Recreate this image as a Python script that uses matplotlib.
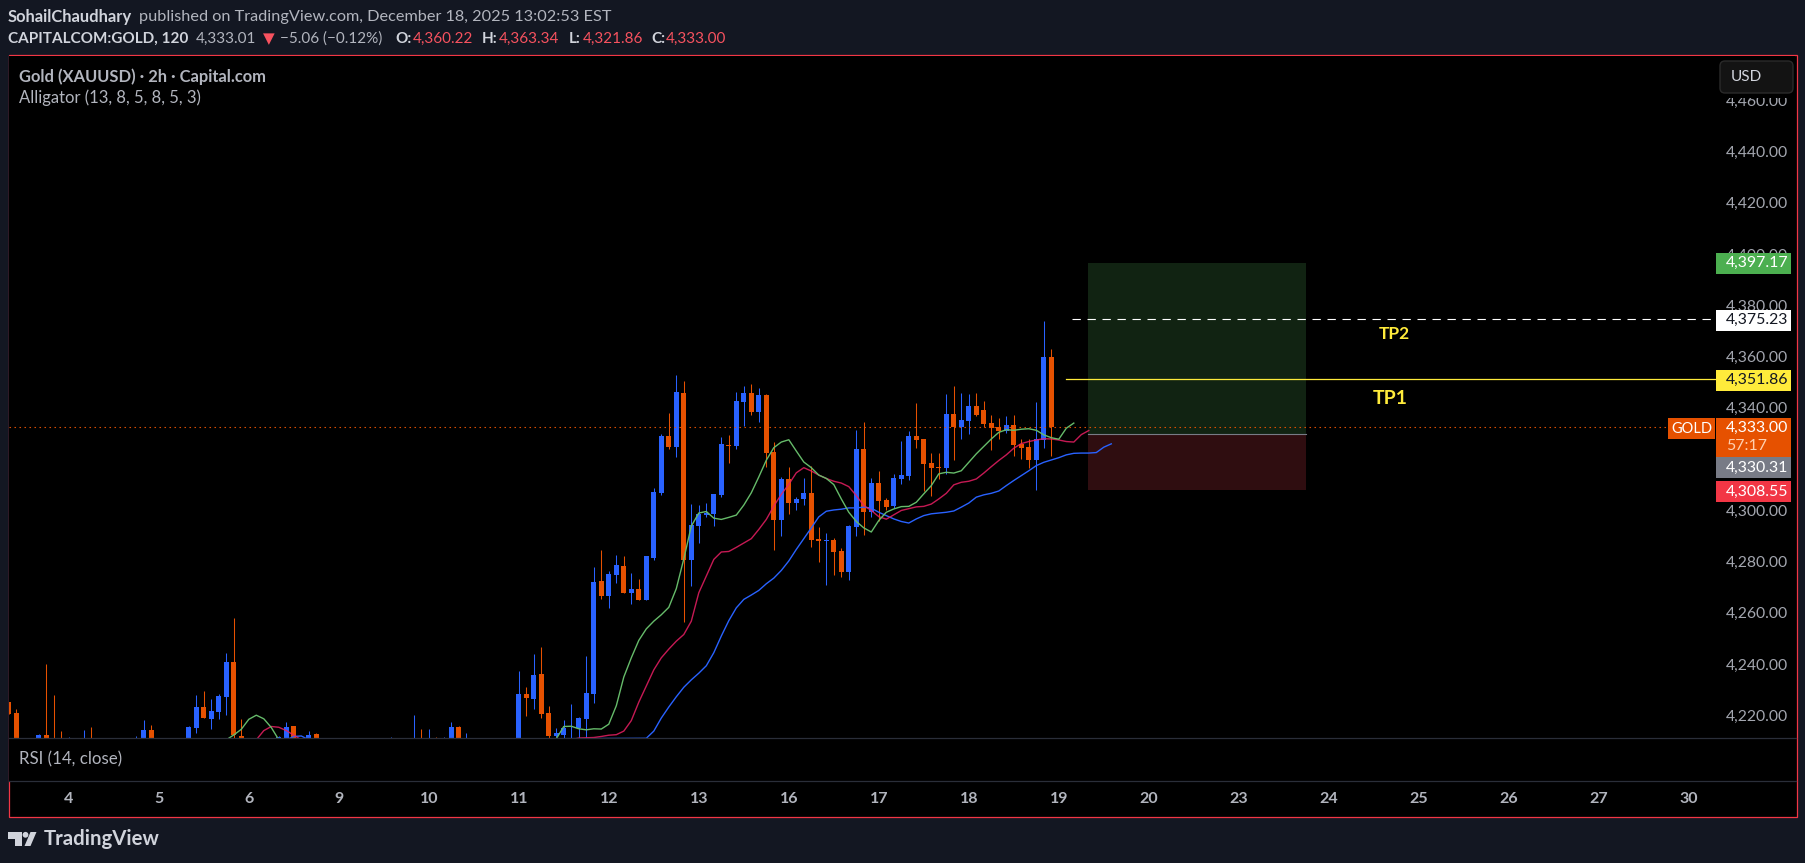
import matplotlib
matplotlib.use("Agg")
import matplotlib.pyplot as plt
from matplotlib.patches import Rectangle, FancyBboxPatch, Polygon, Circle

FONT = "Lato"
BG = "#131722"
BLUE = "#2962ff"
ORANGE = "#e65100"
GREY_TXT = "#b2b5be"

# candles: bar number, open, high, low, close (bars under the pane left out)
bar_no = [0, 1, 4, 5, 6, 7, 8, 10, 11, 17, 18, 19, 24, 25, 26, 27, 28, 29, 30, 31,
          36, 37, 38, 40, 41, 51, 54, 55, 56, 57, 58, 59, 60, 61,
          68, 69, 70, 71, 72, 73, 74, 75, 76, 77, 78, 79, 80, 81, 82, 83, 84, 85,
          86, 87, 88, 89, 90, 91, 92, 93, 94, 95, 96, 97, 98, 99, 100, 101, 102,
          103, 104, 105, 106, 107, 108, 109, 110, 111, 112, 113, 114, 115, 116,
          117, 118, 119, 120, 121, 122, 123, 124, 125, 126, 127, 128, 129, 130,
          131, 132, 133, 134, 135, 136, 137, 138, 139]
opens = [4225.8, 4221.5, 4209, 4212.9, 4209, 4209, 4207, 4207, 4209, 4207, 4205, 4214.9, 4208, 4215.6, 4223.8, 4219.2, 4221.9, 4227.7, 4241.4, 4212.5,
         4208, 4207, 4216.4, 4209, 4213.3, 4208, 4207, 4209, 4207, 4209, 4207, 4206, 4216.1, 4207,
         4205, 4229, 4227, 4236.7, 4221.5, 4212.6, 4213, 4208, 4215.7, 4219.2, 4228.9, 4273, 4267.2, 4275.3, 4278.9, 4268.3, 4269.9, 4265.6,
         4281.8, 4307.5, 4329.4, 4325.1, 4346.5, 4281, 4294.3, 4298.6, 4299.3, 4306.7, 4325.9, 4325.5, 4343, 4346.5, 4339.1, 4345.4, 4323.5,
         4296.6, 4312.6, 4303.6, 4304.8, 4307.5, 4289.2, 4288.4, 4289, 4284.7, 4276.5, 4294.1, 4324.5, 4299.9, 4311.2,
         4304.6, 4302.3, 4312.8, 4314, 4329.6, 4328.4, 4319, 4317.5, 4317.1, 4338.2, 4333.1, 4335.4, 4341.3, 4339.7,
         4334.6, 4333.1, 4331.5, 4333.9, 4326.5, 4325.3, 4320.2, 4328, 4360.22]
highs = [4225.8, 4223.0, 4213.3, 4240.6, 4228.5, 4214.5, 4212.1, 4214.9, 4216.0, 4212.5, 4218.8, 4216.8, 4216.4, 4228.5, 4230.1, 4226.9, 4228.9, 4244.9, 4258.5, 4219.2,
         4212.5, 4218, 4216.4, 4214.4, 4213.6, 4212.2, 4220.8, 4215.3, 4215.3, 4212.2, 4212.2, 4218.0, 4216.5, 4213.7,
         4237.9, 4231.7, 4244.5, 4247.3, 4224.3, 4215.7, 4218.8, 4225, 4219.8, 4243.8, 4278.5, 4285.1, 4276.9, 4283.2, 4282.8, 4276.1, 4273.8, 4282.8,
         4309.1, 4330.5, 4338.7, 4353.2, 4351.2, 4303.2, 4302.5, 4303.6, 4307.1, 4329, 4329.8, 4346.9, 4348.9, 4350, 4348.1, 4346.1, 4327.4,
         4313.4, 4317.3, 4305.6, 4313, 4317.7, 4293.9, 4291.9, 4289.8, 4285.9, 4294.9, 4331.9, 4335, 4313.2, 4315.9,
         4305.4, 4314.8, 4327.6, 4331.5, 4342.4, 4328.4, 4322.9, 4322.9, 4345.9, 4349.1, 4346.3, 4345.9, 4346.3, 4343.2,
         4337.8, 4336.6, 4337.4, 4337.8, 4328.4, 4328.4, 4342.8, 4374.4, 4363.34]
lows = [4221.1, 4205, 4207, 4207, 4204, 4204, 4205, 4205, 4204, 4205, 4203, 4205, 4206, 4213.7, 4219.5, 4215.2, 4219.2, 4220.7, 4208, 4206,
        4206, 4205, 4206, 4207, 4208, 4206, 4205, 4205, 4205, 4205, 4205, 4204, 4204, 4205,
        4203, 4220.4, 4223.1, 4219.6, 4211.8, 4210, 4211, 4205, 4210, 4209, 4225.4, 4266, 4262.5, 4272.2, 4268.3, 4264, 4265.6, 4265.6,
        4281, 4306.4, 4324.3, 4321.2, 4256.8, 4270.9, 4288, 4297.8, 4294.3, 4305.6, 4319.2, 4324.3, 4333.3, 4337.6, 4335.2, 4317.3, 4284.9,
        4290.4, 4299.3, 4300.5, 4302.5, 4286.1, 4280.2, 4271.3, 4275.4, 4274.6, 4273.4, 4290.6, 4291, 4298, 4296.4,
        4300.7, 4301.5, 4310.9, 4312.4, 4324.9, 4308.1, 4306.2, 4312.8, 4314.8, 4320.2, 4328.4, 4330.4, 4337.4, 4333.1,
        4324.1, 4328.4, 4330.7, 4321.8, 4320.6, 4317.1, 4308.5, 4324.9, 4321.86]
closes = [4221.1, 4208, 4212.9, 4209, 4207, 4207, 4209, 4209, 4207, 4209, 4214.9, 4207, 4216.0, 4223.8, 4219.5, 4222.3, 4228.1, 4241.4, 4212.9, 4209,
          4212.0, 4216, 4208, 4212.9, 4209, 4210, 4209, 4207, 4209, 4207, 4209, 4216.1, 4206, 4209,
          4229, 4227.4, 4236.3, 4221.1, 4212.6, 4213.7, 4215.7, 4211, 4219.6, 4229.3, 4272.6, 4267.2, 4275.7, 4279.2, 4268.3, 4269.9, 4265.6, 4282.6,
          4307.9, 4329.4, 4325.1, 4346.9, 4281, 4294.7, 4299, 4299.7, 4307.1, 4326.3, 4325.5, 4343.4, 4346.5, 4339.1, 4345.4, 4323.1, 4296.6,
          4312.6, 4303.6, 4304.8, 4307.5, 4288.8, 4288.4, 4288.8, 4284.3, 4276.5, 4294.5, 4324.5, 4299.9, 4311.2, 4304.2,
          4301.9, 4313.2, 4314.4, 4329.6, 4328, 4318.7, 4317.1, 4317.1, 4338.2, 4333.1, 4335.8, 4341.3, 4337.8, 4334.3,
          4332.7, 4331.5, 4333.9, 4326.1, 4324.9, 4320.2, 4328.4, 4360.4, 4333.0]

# alligator lines, the gaps run under the pane so they get clipped
lips_bars = list(range(29, 37)) + list(range(73, 143))
lips = [4211, 4212.9, 4215.1, 4219, 4220.6, 4219.2, 4215.8, 4211,
        4211.4, 4216.2, 4216.3, 4215.3, 4214.9, 4215.3, 4215.2, 4217.1, 4224.3, 4235.5,
        4243, 4249.8, 4254.3, 4257.3, 4259.8, 4262.7, 4270, 4281.6, 4294.4, 4299.5,
        4300.1, 4297.5, 4297, 4297.8, 4298.7, 4302.6, 4307.4, 4313.6, 4320.1, 4325,
        4327.2, 4328.1, 4323.7, 4319.4, 4317.2, 4314.3, 4313, 4310.6, 4305, 4299.8,
        4296.2, 4293.7, 4292.1, 4296.6, 4299.8, 4301.1, 4302, 4302.1, 4303.7, 4307,
        4310.2, 4314.8, 4315.4, 4315.1, 4316, 4319.3, 4322.6, 4325.5, 4328.4, 4331,
        4332, 4331.8, 4332.2, 4332.4, 4331.8, 4330, 4328.9, 4328.3, 4332.6, 4334.6]
teeth_bars = list(range(33, 40)) + list(range(75, 145))
teeth = [4211, 4214.6, 4216.2, 4215.9, 4214.6, 4212.8, 4211,
         4211, 4211.7, 4211.8, 4211.9, 4212.3, 4212.8, 4213, 4214.4, 4218.5, 4225.7,
         4232, 4238.3, 4243, 4246.4, 4249.5, 4252.1, 4257.3, 4268.4, 4274.9, 4281.4,
         4284.3, 4284.5, 4286.1, 4287.8, 4289.5, 4293.1, 4297, 4302.2, 4306.8, 4310.7,
         4315.2, 4317.2, 4315.9, 4314.3, 4313, 4311.9, 4311.2, 4309.8, 4306.3, 4302.4,
         4300.5, 4298.1, 4297.1, 4298.8, 4300.5, 4301.2, 4301.9, 4302.1, 4303, 4305,
         4307.2, 4310.5, 4311.5, 4311.9, 4312.8, 4315.1, 4317.6, 4320, 4322.2, 4324.8,
         4326.6, 4327.4, 4328, 4328.5, 4328.4, 4328, 4327.4, 4327.2, 4330.1, 4331.7]
jaw_bars = list(range(37, 41)) + list(range(85, 148))
jaw = [4211, 4212.3, 4212.5, 4211,
       4211.6, 4214.4, 4219.5, 4223.8, 4227.8, 4231.5, 4234.4, 4237, 4239.9, 4245,
       4251.5, 4257.5, 4262.5, 4265.8, 4267.5, 4269.3, 4271.9, 4274.1, 4277.1, 4280.8,
       4285.3, 4289.5, 4293.7, 4298, 4300.2, 4300.7, 4301, 4301.5, 4301.5, 4301.8,
       4301.4, 4299.8, 4298.5, 4297.2, 4296.2, 4295.6, 4297.2, 4298.5, 4299.2, 4299.5,
       4299.8, 4300.3, 4301.8, 4303.4, 4305.7, 4306.6, 4307.2, 4308.1, 4310.2, 4312.2,
       4314.1, 4316, 4318, 4319.3, 4320.2, 4321.1, 4322.2, 4322.8, 4322.9, 4322.9,
       4323.1, 4325.2, 4326.5]

price_ticks = [4220, 4240, 4260, 4280, 4300, 4320, 4340, 4360, 4380, 4400, 4420, 4440, 4460]
day_ticks = [8, 20, 32, 44, 56, 68, 80, 92, 104, 116, 128, 140, 152, 164, 176, 188, 200, 212, 224]
day_labels = ["4", "5", "6", "9", "10", "11", "12", "13", "16", "17", "18", "19", "20", "23", "24", "25", "26", "27", "30"]

last_price = 4333.00
tp1 = 4351.86
tp2 = 4375.23
entry = 4330.31
target = 4397.17
stop = 4308.55
box_start, box_end = 143.9, 173

W, H = 1806, 863
plt.rcParams["font.family"] = [FONT, "DejaVu Sans"]
fig = plt.figure(figsize=(W / 100, H / 100), dpi=100, facecolor=BG)


def fx(x):
    return x / W


def fy(y):
    return 1 - y / H


def label(x, y, s, color=GREY_TXT, size=10, weight="normal", ha="left", **kw):
    fig.text(fx(x), fy(y), s, color=color, fontsize=size, fontweight=weight, ha=ha, va="center", **kw)


# black frame with the red outline
fig.add_artist(Rectangle((fx(8.5), fy(816.5)), fx(1788.5), 761 / H, transform=fig.transFigure,
                         facecolor="black", edgecolor="#f23645", lw=0.9, zorder=-1))

# price pane, x is bar number (7.5 px per bar)
ax = fig.add_axes([fx(9.5), fy(738.3), fx(1716 - 9.5), (738.3 - 56) / H], facecolor="black")
ax.set_xlim((9.5 - 8.8) / 7.5, (1716 - 8.8) / 7.5)
ax.set_ylim(4440 - (738.3 - 153) / 2.5625, 4440 + (153 - 56) / 2.5625)
for s in ax.spines.values():
    s.set_visible(False)
ax.set_xticks([])
ax.yaxis.tick_right()
ax.set_yticks(price_ticks)
ax.set_yticklabels([f"{v:,.2f}" for v in price_ticks], color="#a3a6af", fontsize=11.3, va="center")
ax.tick_params(axis="y", length=0, pad=7.2)

# long/short box
ax.add_patch(Rectangle((box_start, entry), box_end - box_start, target - entry, facecolor="#112312", edgecolor="none", zorder=1))
ax.add_patch(Rectangle((box_start, stop), box_end - box_start, entry - stop, facecolor="#2f0d10", edgecolor="none", zorder=1))
ax.plot([box_start, box_end], [entry, entry], color="#787b86", lw=0.8, zorder=1.2)

# candles
for i, o, h, l, c in zip(bar_no, opens, highs, lows, closes):
    col = BLUE if c >= o else ORANGE
    ax.vlines(i, l, h, color=col, lw=0.75, zorder=2)
    ax.bar(i, abs(c - o), bottom=min(o, c), width=0.667, color=col, linewidth=0, zorder=2.1)

ax.plot(jaw_bars, jaw, color=BLUE, lw=1.0, zorder=2.2)
ax.plot(teeth_bars, teeth, color="#e91e63", lw=1.0, alpha=0.85, zorder=2.2)
ax.plot(lips_bars, lips, color="#66bb6a", lw=1.0, zorder=2.2)

ax.plot([ax.get_xlim()[0], 221.1], [last_price, last_price], color=ORANGE, lw=0.8, ls=(0, (1.3, 3.2)), zorder=2.3)
ax.plot([141.8, ax.get_xlim()[1]], [tp2, tp2], color="white", lw=0.8, ls=(0, (7.5, 6)), zorder=2.3)
ax.plot([140.9, ax.get_xlim()[1]], [tp1, tp1], color="#ffeb3b", lw=0.9, zorder=2.3)

label(1394, 334, "TP2", color="#ffeb3b", size=12.5, weight="bold", ha="center", zorder=8)
label(1390, 398, "TP1", color="#ffeb3b", size=14, weight="bold", ha="center", zorder=8)

# rsi pane, empty in the picture, carries the date axis
ax2 = fig.add_axes([fx(9.5), fy(781.3), fx(1787), (781.3 - 738.3) / H], facecolor="black")
ax2.set_xlim((9.5 - 8.8) / 7.5, (9.5 + 1787 - 8.8) / 7.5)
ax2.set_yticks([])
ax2.set_xticks(day_ticks)
ax2.set_xticklabels(day_labels, color=GREY_TXT, fontsize=11.5, fontweight="bold")
ax2.tick_params(axis="x", length=0, pad=8)
for side in ["left", "right"]:
    ax2.spines[side].set_visible(False)
ax2.spines["top"].set_color("#2a2e39")
ax2.spines["bottom"].set_color("#2a2e39")
ax2.spines["top"].set_linewidth(0.9)
ax2.spines["bottom"].set_linewidth(0.9)
ax2.text(0.00535, 0.5, "RSI (14, close)", transform=ax2.transAxes, color=GREY_TXT, fontsize=12.2, va="center")

# coloured labels on the price scale
fig_over = fig.add_axes([0, 0, 1, 1], facecolor="none")
fig_over.set_xlim(0, W)
fig_over.set_ylim(H, 0)
fig_over.axis("off")


def price_box(y0, y1, col, s, txt_col):
    fig_over.add_patch(Rectangle((1716, y0), 75, y1 - y0, facecolor=col, edgecolor="none"))
    fig_over.text(1726, (y0 + y1) / 2, s, color=txt_col, fontsize=11.4, va="center")


price_box(253, 273.7, "#4caf50", f"{target:,.2f}", "white")
price_box(310, 330.7, "white", f"{tp2:,.2f}", "#131722")
price_box(370, 390.7, "#ffeb3b", f"{tp1:,.2f}", "#131722")
price_box(418, 457, ORANGE, "", "white")
fig_over.text(1726, 428, f"{last_price:,.2f}", color="white", fontsize=11.4, va="center")
fig_over.text(1726, 445.5, "57:17", color="#ffd0b0", fontsize=11.4, va="center")
price_box(457.3, 478, "#787b86", f"{entry:,.2f}", "white")
price_box(481, 502, "#f23645", f"{stop:,.2f}", "white")
fig_over.add_patch(Rectangle((1668, 418), 47, 20.7, facecolor=ORANGE, edgecolor="none"))
fig_over.text(1691.5, 428.5, "GOLD", color="white", fontsize=10.5, va="center", ha="center")

# USD button
fig_over.add_patch(Rectangle((1716, 56.5), 79, 41.5, facecolor="black", edgecolor="none"))
fig_over.add_patch(FancyBboxPatch((1723, 64), 67, 26, boxstyle="round,pad=3,rounding_size=5",
                                  facecolor="#131313", edgecolor="#2a2a2a", lw=1))
fig_over.text(1731, 77, "USD", color="#d1d4dc", fontsize=11, va="center")

# header
label(8, 17, "SohailChaudhary", color="#d1d4dc", size=11.9, weight="bold")
label(139, 17, "published on TradingView.com, December 18, 2025 13:02:53 EST", color="#b2b5be", size=11.7)
label(8, 39, "CAPITALCOM:GOLD, 120", color="#d1d4dc", size=11, weight="bold")
label(196, 39, "4,333.01", color="#b2b5be", size=11)
label(263, 39, "\u25bc", color="#f7525f", size=11, family="DejaVu Sans")
label(280.5, 39, "\u22125.06 (\u22120.12%)", color="#b2b5be", size=11)
for x, s in [(395.4, "O:"), (482, "H:"), (569, "L:"), (651, "C:")]:
    label(x, 39, s, color="#d1d4dc", size=11, weight="bold")
for x, s in [(413, "4,360.22"), (499, "4,363.34"), (582.6, "4,321.86"), (666, "4,333.00")]:
    label(x, 39, s, color="#f7525f", size=11)

label(19, 77, "Gold (XAUUSD) \u00b7 2h \u00b7 Capital.com", color=GREY_TXT, size=11.9, weight="bold")
label(19, 98, "Alligator (13, 8, 5, 8, 5, 3)", color=GREY_TXT, size=12)

# logo
logo_col = "#d1d4dc"
fig_over.add_patch(Polygon([(8, 832), (22, 832), (22, 846), (15, 846), (15, 838.5), (8, 838.5)], closed=True, facecolor=logo_col, edgecolor="none"))
fig_over.add_patch(Circle((25.5, 834.8), 2.9, facecolor=logo_col, edgecolor="none"))
fig_over.add_patch(Polygon([(24.5, 846), (30.5, 832), (36.5, 832), (30.5, 846)], closed=True, facecolor=logo_col, edgecolor="none"))
label(44, 839, "TradingView", color=logo_col, size=14.7, weight="bold")

fig.savefig("out.png", dpi=100, facecolor=BG)
